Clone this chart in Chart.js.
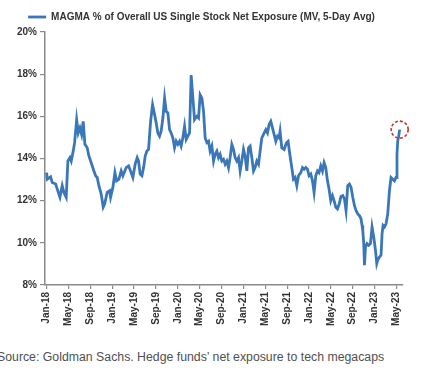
<!DOCTYPE html>
<html>
<head>
<meta charset="utf-8">
<script src="https://cdn.jsdelivr.net/npm/chart.js@4.4.0/dist/chart.umd.min.js"></script>
<style>
  html, body { margin: 0; padding: 0; background: #fff; }
  #wrap { position: relative; width: 421px; height: 371px; overflow: hidden; }
  #chart-div { position: absolute; left: 0; top: 0; width: 421px; height: 342px; }
  #source {
    position: absolute; left: -3px; top: 350px;
    font-family: "Liberation Sans", Arial, sans-serif; font-size: 12.3px;
    color: #505050; white-space: nowrap;
  }
</style>
</head>
<body>
<div id="wrap">
  <div id="chart-div"><canvas id="myChart" width="421" height="342"></canvas></div>
  <div id="source">Source: Goldman Sachs. Hedge funds’ net exposure to tech megacaps</div>
</div>
<script>
// Series label
const seriesLabel = "MAGMA % of Overall US Single Stock Net Exposure (MV, 5-Day Avg)"

// Months since Jan-18
const months = [
  0, 0.11, 0.73, 1.02, 1.65, 1.94, 2.43, 2.85, 3.16, 3.58, 3.89, 4.26, 4.50, 4.86, 5.12, 5.49, 5.78, 6.09, 6.40, 6.69,
  7.00, 7.42, 7.73, 8.05, 8.65, 8.96, 9.25, 9.56, 9.98, 10.35, 10.61, 11.08, 11.52, 11.70, 12.12, 12.49, 12.80, 13.22,
  13.64, 13.95, 14.55, 14.99, 15.36, 15.78, 16.20, 16.57, 16.82, 17.11, 17.43, 17.74, 18.03, 18.34, 18.65, 19.02,
  19.38, 19.75, 20.04, 20.35, 20.66, 20.95, 21.27, 21.58, 21.87, 22.18, 22.49, 22.78, 23.09, 23.40, 23.70, 24.01,
  24.32, 24.61, 24.92, 25.23, 25.53, 25.84, 26.15, 26.44, 26.75,
  27.06, 27.48, 27.79, 28.09, 28.40, 28.71, 29.00, 29.31, 29.62, 29.91, 30.23, 30.54, 30.83, 31.14, 31.45, 31.74,
  32.05, 32.36, 32.66, 32.97, 33.28, 33.57, 33.88, 34.19, 34.49, 34.80, 35.11, 35.40, 35.71, 36.02, 36.31, 36.63,
  36.94, 37.23, 37.54, 37.85, 38.14, 38.45, 38.76, 39.06, 39.37, 39.68,
  40.10, 40.41, 40.70, 41.01, 41.32, 41.62, 41.93, 42.24, 42.53, 42.71, 43.02, 43.45, 43.88, 44.18, 44.49, 44.85,
  45.16, 45.46, 45.77, 46.08, 46.50, 46.81, 47.10, 47.41, 47.72, 48.02, 48.33, 48.64, 48.93, 49.24, 49.55, 49.84,
  50.16, 50.47, 50.76, 51.07, 51.38, 51.67, 51.98, 52.29, 52.59, 52.90, 53.21,
  53.54, 53.85, 54.18, 54.49, 54.78, 55.09, 55.40, 55.70, 56.01, 56.32, 56.61, 56.92, 57.23, 57.52, 57.71, 57.84,
  58.02, 58.15, 58.33, 58.62, 58.93, 59.24, 59.54, 59.85, 60.16, 60.40, 60.58, 60.89, 61.18, 61.37, 61.55, 61.80,
  62.10, 62.41, 62.72, 63.01, 63.32, 63.63, 63.92, 64.10, 64.23, 64.41, 64.59
]

// MAGMA share of net exposure, %
const exposure = [
  13.33, 13.02, 13.13, 12.86, 12.79, 12.55, 12.16, 12.71, 12.39, 12.16, 13.88, 14.04, 13.88, 14.35, 14.75, 15.84, 15.21, 15.45, 15.14, 15.76,
  14.67, 14.51, 14.12, 13.88, 13.41, 13.18, 13.10, 12.71, 12.31, 11.69, 11.84, 12.39, 12.47, 12.16, 12.63, 13.33, 12.94, 13.02,
  13.41, 13.18, 13.57, 13.65, 13.41, 13.10, 13.73, 14.04, 13.88, 13.26, 13.18, 13.57, 14.12, 14.35, 14.43, 15.76,
  16.55, 16.08, 15.69, 15.21, 15.06, 15.29, 15.92, 16.86, 16.24, 16.16, 15.37, 15.21, 14.98, 14.51, 14.82, 14.67,
  14.82, 14.59, 14.98, 15.53, 14.90, 15.06, 15.21, 17.96, 16.90,
  15.84, 16.00, 15.92, 17.02, 16.86, 16.24, 14.98, 14.75, 14.82, 14.35, 14.59, 13.88, 14.20, 14.35, 14.04, 14.20,
  13.88, 13.96, 13.73, 13.88, 13.57, 14.04, 14.67, 14.43, 14.04, 13.88, 14.04, 13.41, 13.88, 14.43, 14.12, 13.41,
  14.51, 14.59, 14.04, 13.41, 13.57, 13.88, 13.73, 14.35, 14.98, 15.14,
  15.37, 15.21, 15.61, 15.76, 15.45, 15.14, 14.82, 15.06, 14.98, 15.29, 14.51, 14.43, 14.75, 14.82, 14.20, 13.57,
  13.02, 13.10, 12.71, 13.18, 13.33, 13.57, 13.49, 13.57, 13.49, 13.18, 13.26, 12.94, 12.39, 13.18, 13.41, 13.33,
  13.65, 13.41, 13.80, 13.57, 12.94, 12.55, 12.00, 12.24, 12.00, 11.69, 11.61,
  11.85, 12.20, 12.24, 12.08, 11.53, 12.71, 12.79, 12.63, 12.16, 11.76, 11.53, 11.37, 11.29, 11.14, 10.82, 10.59,
  9.96, 8.94, 9.80, 9.96, 9.88, 9.96, 10.75, 10.27, 9.65, 9.02, 9.18, 9.33, 9.41, 10.43, 10.82, 10.75,
  10.90, 11.37, 12.47, 13.10, 13.02, 12.94, 13.10, 14.20, 14.82, 15.06, 15.37
]

// X tick positions (months since Jan-18) and their labels
const tickMonths = [0, 4, 8, 12, 16, 20, 24, 28, 32, 36, 40, 44, 48, 52, 56, 60, 64]
const tickLabels = ["Jan-18", "May-18", "Sep-18", "Jan-19", "May-19", "Sep-19", "Jan-20", "May-20", "Sep-20",
                    "Jan-21", "May-21", "Sep-21", "Jan-22", "May-22", "Sep-22", "Jan-23", "May-23"]

const lineColor = "#3a77b9"
const axisColor = "#8a8a8a"
const textColor = "#333"

// Red dashed circle around the latest reading
const lastPointCircle = {
  id: "lastPointCircle",
  afterDatasetsDraw(chart) {
    const meta = chart.getDatasetMeta(0)
    const pt = meta.data[meta.data.length - 1]
    const ctx = chart.ctx
    ctx.save()
    ctx.strokeStyle = "#c0392b"
    ctx.lineWidth = 1.6
    ctx.setLineDash([3, 2])
    ctx.beginPath()
    ctx.arc(pt.x, pt.y, 8.5, 0, Math.PI * 2)
    ctx.stroke()
    ctx.restore()
  }
}

const points = months.map((m, i) => ({ x: m, y: exposure[i] }))

const config = {
  type: "line",
  data: {
    datasets: [{
      label: seriesLabel,
      data: points,
      borderColor: lineColor,
      backgroundColor: lineColor,
      borderWidth: 2.8,
      pointRadius: 0,
      tension: 0,
      fill: false
    }]
  },
  plugins: [lastPointCircle],
  options: {
    responsive: false,
    animation: false,
    layout: { padding: { left: 0, right: 18, top: 4, bottom: 0 } },
    plugins: {
      tooltip: { enabled: false },
      legend: {
        position: "top",
        labels: {
          usePointStyle: true,
          pointStyle: "line",
          pointStyleWidth: 18,
          boxHeight: 10,
          padding: 8,
          color: textColor,
          font: { family: "'Liberation Sans', Arial, sans-serif", size: 10, weight: "bold" }
        }
      }
    },
    scales: {
      x: {
        type: "linear",
        min: -0.3,
        max: 65.2,
        afterBuildTicks: (scale) => { scale.ticks = tickMonths.map(v => ({ value: v })) },
        afterFit: (scale) => { scale.height = 57 },
        ticks: {
          autoSkip: false,
          minRotation: 90,
          maxRotation: 90,
          padding: 3,
          color: textColor,
          font: { family: "'Liberation Sans', Arial, sans-serif", size: 10, weight: "bold" },
          callback: (v) => tickLabels[tickMonths.indexOf(v)]
        },
        grid: { drawOnChartArea: false, drawTicks: true, tickLength: 4, color: axisColor, lineWidth: 1.2 },
        border: { display: true, color: axisColor, width: 1.5 }
      },
      y: {
        min: 8,
        max: 20,
        afterFit: (scale) => { scale.width = 45 },
        ticks: {
          stepSize: 2,
          padding: 3,
          color: textColor,
          font: { family: "'Liberation Sans', Arial, sans-serif", size: 10, weight: "bold" },
          callback: (v) => v + "%"
        },
        grid: { drawOnChartArea: false, drawTicks: true, tickLength: 5, color: axisColor, lineWidth: 1.2 },
        border: { display: true, color: axisColor, width: 1.5 }
      }
    }
  }
}

const myChart = new Chart(document.getElementById("myChart"), config)
</script>
</body>
</html>
